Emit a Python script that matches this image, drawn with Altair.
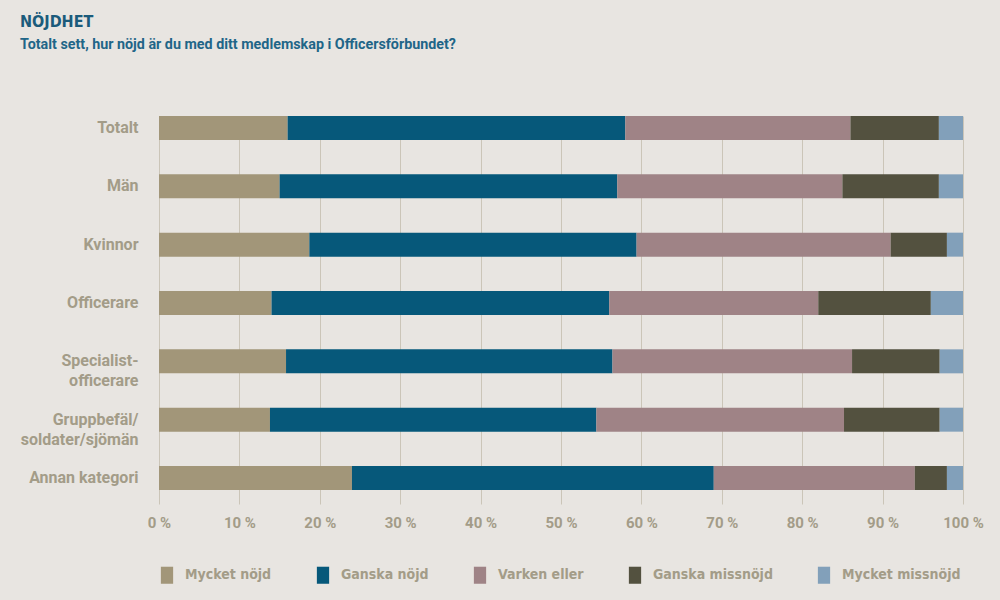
import altair as alt
import pandas as pd

# Survey groups (a "|" marks a line break in the axis label)
groups = [
    "Totalt",
    "Män",
    "Kvinnor",
    "Officerare",
    "Specialist-|officerare",
    "Gruppbefäl/|soldater/sjömän",
    "Annan kategori",
]

answers = ["Mycket nöjd", "Ganska nöjd", "Varken eller", "Ganska missnöjd", "Mycket missnöjd"]
colors = ["#a29679", "#06587a", "#9f8386", "#53513f", "#82a0ba"]

# Share of respondents per answer, in percent
mycket_nojd = [16, 15, 18.7, 14, 15.8, 13.8, 24]
ganska_nojd = [42, 42, 40.7, 42, 40.6, 40.6, 45]
varken_eller = [28, 28, 31.6, 26, 29.8, 30.8, 25]
ganska_missnojd = [11, 12, 7, 14, 10.9, 11.9, 4]
mycket_missnojd = [3, 3, 2, 4, 2.9, 2.9, 2]

x_ticks = [0, 10, 20, 30, 40, 50, 60, 70, 80, 90, 100]

series = [mycket_nojd, ganska_nojd, varken_eller, ganska_missnojd, mycket_missnojd]
records = []
for k, (answer, values) in enumerate(zip(answers, series)):
    for group, v in zip(groups, values):
        records.append({"grupp": group, "svar": answer, "ordning": k, "andel": v})
df = pd.DataFrame(records)

label_color = "#a39c88"
title_color = "#1b5b7b"
narrow = "Liberation Sans Narrow, DejaVu Sans Condensed, Roboto, sans-serif"

bars = (
    alt.Chart(df)
    .mark_bar()
    .encode(
        y=alt.Y(
            "grupp:N",
            sort=groups,
            scale=alt.Scale(paddingInner=0.589, paddingOuter=0.12, align=0),
            axis=alt.Axis(
                title=None,
                domain=False,
                ticks=False,
                grid=False,
                labelExpr="split(datum.label, '|')",
                labelPadding=21,
                labelFont="Roboto",
                labelFontSize=16,
                labelFontWeight="bold",
                labelColor=label_color,
                labelLineHeight=20,
            ),
        ),
        x=alt.X(
            "andel:Q",
            stack="zero",
            scale=alt.Scale(domain=[0, 100], nice=False),
            axis=alt.Axis(
                title=None,
                values=x_ticks,
                labelExpr="datum.value + ' %'",
                domain=False,
                ticks=False,
                grid=True,
                gridColor="#cbc5b8",
                gridWidth=1,
                labelFlush=False,
                labelPadding=11,
                labelFont="Roboto",
                labelFontSize=15,
                labelFontWeight="bold",
                labelColor=label_color,
            ),
        ),
        color=alt.Color(
            "svar:N",
            sort=answers,
            scale=alt.Scale(domain=answers, range=colors),
            legend=alt.Legend(
                title=None,
                orient="none",
                direction="horizontal",
                legendX=-1,
                legendY=450,
                columnPadding=42,
                symbolType="M-0.72,-1H0.72V1H-0.72Z",
                symbolSize=290,
                symbolStrokeWidth=0,
                symbolOpacity=1,
                labelOffset=9,
                labelFont=narrow,
                labelFontSize=14,
                labelFontWeight="bold",
                labelColor=label_color,
            ),
        ),
        order=alt.Order("ordning:Q", sort="ascending"),
    )
)

chart = (
    bars.properties(
        width=804,
        height=388,
        background="#e8e5e1",
        padding={"left": 159, "top": 116, "right": 37, "bottom": 96},
        autosize=alt.AutoSizeParams(type="none"),
        title=alt.TitleParams(
            text="NÖJDHET",
            subtitle="Totalt sett, hur nöjd är du med ditt medlemskap i Officersförbundet?",
            anchor="start",
            frame="group",
            dx=-139,
            offset=64,
            font=narrow,
            fontSize=16,
            fontWeight="bold",
            color=title_color,
            subtitleFont="Roboto",
            subtitleFontSize=14.3,
            subtitleFontWeight="bold",
            subtitleColor="#1f6688",
            subtitlePadding=8,
        ),
    )
    .configure_view(stroke=None)
)

chart.save("out.html", embed_options={"renderer": "svg", "actions": False})
